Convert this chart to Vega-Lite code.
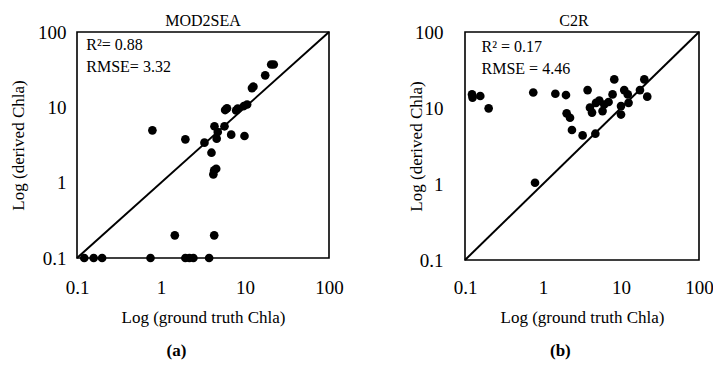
{
  "$schema": "https://vega.github.io/schema/vega-lite/v6.json",
  "background": "white",
  "padding": {"left": 8, "top": 12, "right": 5, "bottom": 5},
  "config": {
    "font": "Liberation Serif",
    "view": {"stroke": "black", "strokeWidth": 1.6},
    "axis": {"ticks": false, "domain": false, "grid": false, "labelFlush": false, "labelOverlap": false, "labelFont": "Liberation Serif", "titleFont": "Liberation Serif", "labelFontSize": 19, "titleFontSize": 17, "titleFontWeight": "normal", "labelColor": "black", "titleColor": "black"},
    "title": {"font": "Liberation Serif", "fontSize": 16, "fontWeight": "normal", "color": "black", "anchor": "middle"},
    "concat": {"spacing": 61}
  },
  "datasets": {
    "diag": [{"v": 0.1}, {"v": 100}],
    "a": [
      {"truth": 20.5, "derived": 37.0}, {"truth": 22.0, "derived": 37.0},
      {"truth": 17.4, "derived": 26.6}, {"truth": 12.1, "derived": 18.0},
      {"truth": 12.6, "derived": 18.8}, {"truth": 10.6, "derived": 10.9},
      {"truth": 9.7, "derived": 10.4}, {"truth": 8.2, "derived": 9.6},
      {"truth": 7.85, "derived": 9.1}, {"truth": 5.8, "derived": 9.2},
      {"truth": 6.1, "derived": 9.7}, {"truth": 4.33, "derived": 5.6},
      {"truth": 5.7, "derived": 5.6}, {"truth": 4.74, "derived": 4.7},
      {"truth": 4.6, "derived": 3.84}, {"truth": 6.85, "derived": 4.34},
      {"truth": 9.86, "derived": 4.16}, {"truth": 3.29, "derived": 3.4},
      {"truth": 1.95, "derived": 3.76}, {"truth": 0.79, "derived": 4.95},
      {"truth": 3.99, "derived": 2.5}, {"truth": 4.3, "derived": 1.46},
      {"truth": 4.54, "derived": 1.53}, {"truth": 4.2, "derived": 1.29},
      {"truth": 1.46, "derived": 0.2}, {"truth": 4.3, "derived": 0.2},
      {"truth": 0.122, "derived": 0.1}, {"truth": 0.158, "derived": 0.1},
      {"truth": 0.199, "derived": 0.1}, {"truth": 0.75, "derived": 0.1},
      {"truth": 1.95, "derived": 0.1}, {"truth": 2.18, "derived": 0.1},
      {"truth": 2.43, "derived": 0.1}, {"truth": 3.74, "derived": 0.1}
    ],
    "b": [
      {"truth": 0.123, "derived": 15.1}, {"truth": 0.125, "derived": 13.7},
      {"truth": 0.157, "derived": 14.4}, {"truth": 0.201, "derived": 9.9},
      {"truth": 0.75, "derived": 16.0}, {"truth": 0.79, "derived": 1.04},
      {"truth": 1.44, "derived": 15.4}, {"truth": 1.97, "derived": 14.8},
      {"truth": 2.01, "derived": 8.5}, {"truth": 2.22, "derived": 7.45},
      {"truth": 2.35, "derived": 5.13}, {"truth": 3.22, "derived": 4.36},
      {"truth": 4.69, "derived": 4.59}, {"truth": 3.73, "derived": 17.2},
      {"truth": 8.2, "derived": 23.8}, {"truth": 7.8, "derived": 15.1},
      {"truth": 6.93, "derived": 12.0}, {"truth": 6.1, "derived": 11.1},
      {"truth": 5.8, "derived": 9.1}, {"truth": 4.0, "derived": 10.1},
      {"truth": 4.78, "derived": 11.7}, {"truth": 4.25, "derived": 8.7},
      {"truth": 5.27, "derived": 12.5}, {"truth": 11.0, "derived": 17.2},
      {"truth": 12.2, "derived": 15.1}, {"truth": 12.5, "derived": 11.7},
      {"truth": 10.0, "derived": 10.6}, {"truth": 10.0, "derived": 8.2},
      {"truth": 17.5, "derived": 17.2}, {"truth": 19.9, "derived": 23.8},
      {"truth": 21.7, "derived": 14.1}
    ],
    "annA": [{"label": "R²= 0.88", "x": 0.129, "y": 66.6}, {"label": "RMSE= 3.32", "x": 0.129, "y": 34.0}],
    "annB": [{"label": "R² = 0.17", "x": 0.163, "y": 64.1}, {"label": "RMSE = 4.46", "x": 0.163, "y": 32.9}]
  },
  "hconcat": [
    {
      "title": {"text": "(a)", "orient": "bottom", "fontSize": 17, "fontWeight": "bold", "offset": 17, "frame": "bounds", "anchor": "middle"},
      "vconcat": [
        {
          "title": {"text": "MOD2SEA", "offset": -6, "frame": "group"},
          "width": 252,
          "height": 226,
          "layer": [
            {
              "data": {"name": "diag"},
              "mark": {"type": "line", "color": "black", "strokeWidth": 2},
              "encoding": {
                "x": {"field": "v", "type": "quantitative", "scale": {"type": "log", "domain": [0.1, 100], "nice": false}, "axis": {"title": "Log (ground truth Chla)", "values": [0.1, 1, 10, 100], "format": "~g", "labelPadding": 20, "titlePadding": 12}},
                "y": {"field": "v", "type": "quantitative", "scale": {"type": "log", "domain": [0.1, 100], "nice": false}, "axis": {"title": "Log (derived Chla)", "values": [0.1, 1, 10, 100], "format": "~g", "labelPadding": 11, "titlePadding": 10}}
              }
            },
            {
              "data": {"name": "a"},
              "mark": {"type": "circle", "color": "black", "opacity": 1, "size": 75},
              "encoding": {
                "x": {"field": "truth", "type": "quantitative"},
                "y": {"field": "derived", "type": "quantitative"}
              }
            },
            {
              "data": {"name": "annA"},
              "mark": {"type": "text", "align": "left", "baseline": "middle", "fontSize": 16, "font": "Liberation Serif", "color": "black"},
              "encoding": {
                "x": {"field": "x", "type": "quantitative"},
                "y": {"field": "y", "type": "quantitative"},
                "text": {"field": "label"}
              }
            }
          ]
        }
      ]
    },
    {
      "title": {"text": "(b)", "orient": "bottom", "fontSize": 17, "fontWeight": "bold", "offset": 17, "frame": "bounds", "anchor": "middle"},
      "vconcat": [
        {
          "title": {"text": "C2R", "offset": -6, "frame": "group", "dx": -8},
          "width": 234,
          "height": 228,
          "layer": [
            {
              "data": {"name": "diag"},
              "mark": {"type": "line", "color": "black", "strokeWidth": 2},
              "encoding": {
                "x": {"field": "v", "type": "quantitative", "scale": {"type": "log", "domain": [0.1, 100], "nice": false}, "axis": {"title": "Log (ground truth Chla)", "values": [0.1, 1, 10, 100], "format": "~g", "labelPadding": 18, "titlePadding": 12}},
                "y": {"field": "v", "type": "quantitative", "scale": {"type": "log", "domain": [0.1, 100], "nice": false}, "axis": {"title": "Log  (derived Chla)", "values": [0.1, 1, 10, 100], "format": "~g", "labelPadding": 22, "titlePadding": -11}}
              }
            },
            {
              "data": {"name": "b"},
              "mark": {"type": "circle", "color": "black", "opacity": 1, "size": 75},
              "encoding": {
                "x": {"field": "truth", "type": "quantitative"},
                "y": {"field": "derived", "type": "quantitative"}
              }
            },
            {
              "data": {"name": "annB"},
              "mark": {"type": "text", "align": "left", "baseline": "middle", "fontSize": 16, "font": "Liberation Serif", "color": "black"},
              "encoding": {
                "x": {"field": "x", "type": "quantitative"},
                "y": {"field": "y", "type": "quantitative"},
                "text": {"field": "label"}
              }
            }
          ]
        }
      ]
    }
  ]
}
